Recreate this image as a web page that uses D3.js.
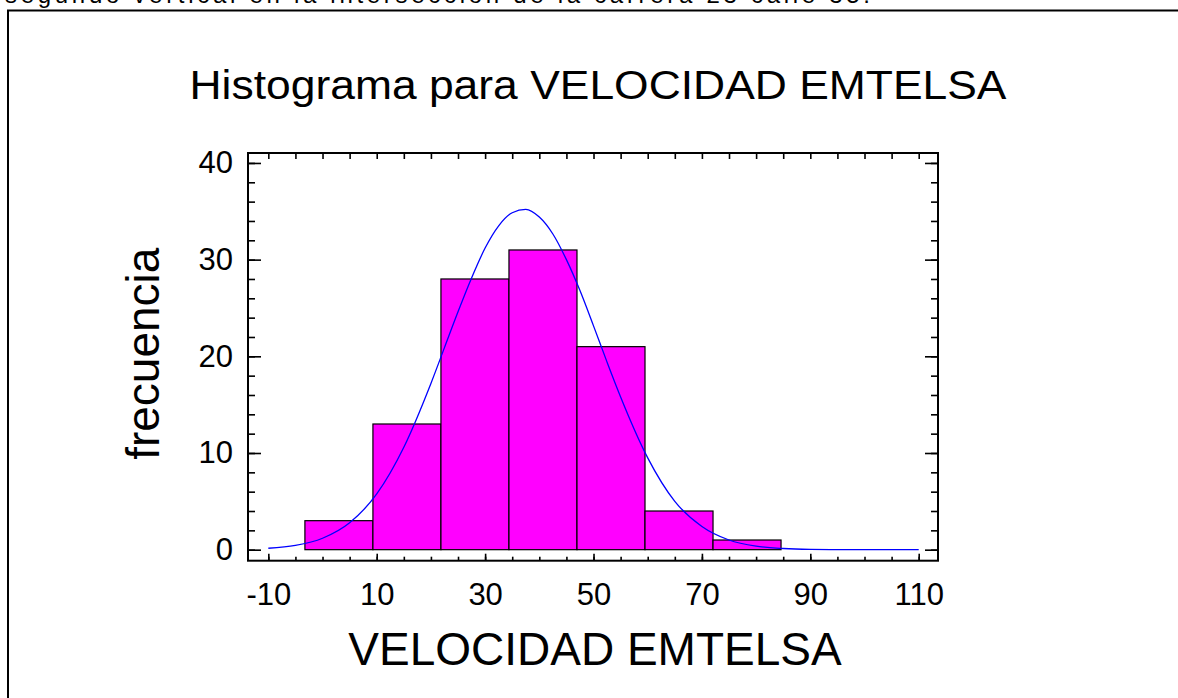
<!DOCTYPE html>
<html>
<head>
<meta charset="utf-8">
<script src="https://cdn.jsdelivr.net/npm/d3@7"></script>
<style>
  body { margin: 0; background: #fff; }
  svg { display: block; font-family: "Liberation Sans", Arial, sans-serif; }
</style>
</head>
<body>
<div id="chart"></div>
<script>
// histogram bins (edges) and counts
const binEdges = [-3.25, 9.3, 21.85, 34.4, 46.95, 59.5, 72.05, 84.6];
const counts = [3, 13, 28, 31, 21, 4, 1];

// fitted normal curve
const curveX = [-10, -5, 0, 5, 10, 15, 20, 22.5, 25, 27.5, 30, 32.5, 35, 37.5, 40, 42.5, 45, 47.5, 50, 52.5, 55, 60, 65, 70, 75, 80, 85, 90, 95, 100, 105, 110];
const curveY = [0.15, 0.44, 1.18, 2.78, 5.77, 10.6, 17.2, 20.9, 24.6, 28.1, 31.2, 33.5, 34.85, 35.2, 34.4, 32.65, 30.0, 26.8, 23.15, 19.4, 15.8, 9.5, 5.0, 2.4, 1.0, 0.36, 0.12, 0.03, 0.01, 0, 0, 0];

const xMajor = [-10, 10, 30, 50, 70, 90, 110];
const xMinor = d3.range(-10, 111, 5);
const yMajor = [0, 10, 20, 30, 40];
const yMinor = d3.range(0, 41, 2);

const W = 1178, H = 698;
const plot = {left: 248, top: 153, right: 938, bottom: 560.7};

const svg = d3.select("#chart").append("svg")
    .attr("width", W).attr("height", H);

// cut-off caption above the frame
svg.append("text")
    .attr("x", 5).attr("y", 3)
    .attr("font-size", 24)
    .attr("textLength", 865)
    .text("segundo vertical en la intersección de la carrera 23 calle 35.");

// outer frame
svg.append("rect")
    .attr("x", 8).attr("y", 10.5)
    .attr("width", 1300).attr("height", 900)
    .attr("fill", "none").attr("stroke", "#000").attr("stroke-width", 2);

const x = d3.scaleLinear().domain([-13.75, 113.56]).range([plot.left, plot.right]);
const y = d3.scaleLinear().domain([-1.14, 41.03]).range([plot.bottom, plot.top]);

const chart = svg.append("g");

// bars
chart.selectAll("rect.bar").data(counts).enter()
    .append("rect").attr("class", "bar")
    .attr("x", (d, i) => x(binEdges[i]))
    .attr("width", (d, i) => x(binEdges[i + 1]) - x(binEdges[i]))
    .attr("y", d => y(d))
    .attr("height", d => y(0) - y(d))
    .attr("fill", "#ff00ff")
    .attr("stroke", "#000").attr("stroke-width", 1.2);

// normal curve
const line = d3.line()
    .x((d, i) => x(curveX[i]))
    .y(d => y(d))
    .curve(d3.curveMonotoneX);
chart.append("path")
    .datum(curveY)
    .attr("d", line)
    .attr("fill", "none")
    .attr("stroke", "#0000ff").attr("stroke-width", 1.3);

// axes: ticks point inward
const fmt = d => String(d);
function styleAxis(g) {
  g.select(".domain").remove();
  g.selectAll("line").attr("stroke", "#000").attr("stroke-width", 1.6);
  g.selectAll("text").attr("fill", "#000").attr("font-size", 31)
    .attr("font-family", "'Liberation Sans', Arial, sans-serif");
}

// bottom
chart.append("g").attr("transform", `translate(0,${plot.bottom})`)
    .call(d3.axisBottom(x).tickValues(xMinor).tickSize(-4).tickFormat(""))
    .call(styleAxis);
chart.append("g").attr("transform", `translate(0,${plot.bottom})`)
    .call(d3.axisBottom(x).tickValues(xMajor).tickSize(-7).tickPadding(22).tickFormat(fmt))
    .call(styleAxis);
// top
chart.append("g").attr("transform", `translate(0,${plot.top})`)
    .call(d3.axisTop(x).tickValues(xMinor).tickSize(-6).tickFormat(""))
    .call(styleAxis);
// left
chart.append("g").attr("transform", `translate(${plot.left},0)`)
    .call(d3.axisLeft(y).tickValues(yMinor).tickSize(-7).tickFormat(""))
    .call(styleAxis);
chart.append("g").attr("transform", `translate(${plot.left},0)`)
    .call(d3.axisLeft(y).tickValues(yMajor).tickSize(-13).tickPadding(15).tickFormat(fmt))
    .call(styleAxis);
// right
chart.append("g").attr("transform", `translate(${plot.right},0)`)
    .call(d3.axisRight(y).tickValues(yMinor).tickSize(-7).tickFormat(""))
    .call(styleAxis);
chart.append("g").attr("transform", `translate(${plot.right},0)`)
    .call(d3.axisRight(y).tickValues(yMajor).tickSize(-13).tickFormat(""))
    .call(styleAxis);

// plot frame
chart.append("rect")
    .attr("x", plot.left).attr("y", plot.top)
    .attr("width", plot.right - plot.left).attr("height", plot.bottom - plot.top)
    .attr("fill", "none").attr("stroke", "#000").attr("stroke-width", 2);

// title and axis labels
svg.append("text")
    .attr("x", 598).attr("y", 98.5)
    .attr("text-anchor", "middle")
    .attr("font-size", 41)
    .attr("textLength", 817).attr("lengthAdjust", "spacingAndGlyphs")
    .text("Histograma para VELOCIDAD EMTELSA");

svg.append("text")
    .attr("x", 595).attr("y", 665)
    .attr("text-anchor", "middle")
    .attr("font-size", 46)
    .text("VELOCIDAD EMTELSA");

svg.append("text")
    .attr("transform", "translate(159,353.7) rotate(-90)")
    .attr("text-anchor", "middle")
    .attr("font-size", 46)
    .text("frecuencia");
</script>
</body>
</html>
